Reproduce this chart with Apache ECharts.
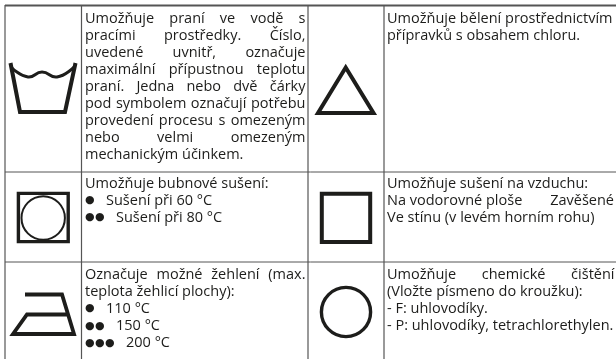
<!DOCTYPE html>
<html>
<head>
    <meta charset="utf-8">
    <script type="text/javascript" src="https://cdn.jsdelivr.net/npm/echarts@6/dist/echarts.min.js"></script>
    <style>html,body{margin:0;padding:0;background:#fff}</style>
</head>
<body>
<div id="main" style="width:616px;height:359px;"></div>
<script type="text/javascript">
    // texty bunek, radek po radku; \t = odskok na pravy okraj
    var washLines = ['Umožňuje praní ve vodě s', 'pracími prostředky. Číslo,', 'uvedené uvnitř, označuje', 'maximální přípustnou teplotu', 'praní. Jedna nebo dvě čárky', 'pod symbolem označují potřebu', 'provedení procesu s omezeným', 'nebo velmi omezeným', 'mechanickým účinkem.'];
    var bleachLines = ['Umožňuje bělení prostřednictvím', 'přípravků s obsahem chloru.'];
    var tumbleLines = ['Umožňuje bubnové sušení:', '●  Sušení při 60 °C', '●●  Sušení při 80 °C'];
    var airLines = ['Umožňuje sušení na vzduchu:', 'Na vodorovné ploše\tZavěšené', 'Ve stínu (v levém horním rohu)'];
    var ironLines = ['Označuje možné žehlení (max.', 'teplota žehlicí plochy):', '●  110 °C', '●●  150 °C', '●●●  200 °C'];
    var cleanLines = ['Umožňuje chemické čištění', '(Vložte písmeno do kroužku):', '- F: uhlovodíky.', '- P: uhlovodíky, tetrachlorethylen.'];
    // kolik prvnich radku je do bloku
    var washJustified = 8, bleachJustified = 0, tumbleJustified = 0, airJustified = 0, ironJustified = 1, cleanJustified = 1;

    var FONT_SIZE = 14.5;
    var FONT_FAMILY = '"Open Sans", "DejaVu Sans", sans-serif';
    var TEXT_COLOR = '#1d1d1b';
    var LINE_COLOR = '#555';
    var SYMBOL_COLOR = '#1d1d1b';
    var LINE_STEP = 17.1;
    var BULLET_STEP = 10;

    var measure = document.createElement('canvas').getContext('2d');
    measure.font = FONT_SIZE + 'px ' + FONT_FAMILY;
    function widthOf(s) { return measure.measureText(s).width; }

    function word(x, y, s) {
        return {
            type: 'text', x: x, y: y - 4.2, silent: true,
            style: { text: s, fontSize: FONT_SIZE, fontFamily: FONT_FAMILY, fill: TEXT_COLOR, align: 'left', verticalAlign: 'middle' }
        };
    }
    function bullet(x, y) {
        return {
            type: 'text', x: x, y: y - 4.6, silent: true,
            style: { text: '●', fontSize: 11, fontFamily: '"DejaVu Sans"', fill: TEXT_COLOR, align: 'left', verticalAlign: 'middle' }
        };
    }

    function cellText(lines, justified, left, right, baseline) {
        var out = [];
        lines.forEach(function (line, i) {
            var y = baseline + i * LINE_STEP;
            if (line.charAt(0) === '●') {
                var bits = line.split('  ');
                for (var b = 0; b < bits[0].length; b++) {
                    out.push(bullet(left + b * BULLET_STEP, y));
                }
                out.push(word(left + 1 + (bits[0].length + 1) * BULLET_STEP, y, bits[1]));
            } else if (line.indexOf('\t') >= 0) {
                var parts = line.split('\t');
                out.push(word(left, y, parts[0]));
                out.push(word(right - widthOf(parts[1]), y, parts[1]));
            } else if (i < justified) {
                var words = line.split(' ');
                var used = 0;
                words.forEach(function (w) { used += widthOf(w); });
                var gap = (right - left - used) / (words.length - 1);
                var x = left;
                words.forEach(function (w) {
                    out.push(word(x, y, w));
                    x += widthOf(w) + gap;
                });
            } else {
                out.push(word(left, y, line));
            }
        });
        return out;
    }

    function rule(x1, y1, x2, y2, w) {
        return { type: 'line', silent: true, shape: { x1: x1, y1: y1, x2: x2, y2: y2 }, style: { stroke: LINE_COLOR, lineWidth: w } };
    }
    function symbolStyle(w) {
        return { fill: 'none', stroke: SYMBOL_COLOR, lineWidth: w, lineJoin: 'miter', miterLimit: 10 };
    }

    var els = [];
    // mrizka tabulky
    els.push(rule(5, 5.5, 616, 5.5, 2));
    els.push(rule(5, 172, 616, 172, 1));
    els.push(rule(5, 262, 616, 262, 1));
    [5, 81.5, 308, 384].forEach(function (x) { els.push(rule(x, 5, x, 359, 1.2)); });

    // symboly
    els.push({ type: 'polyline', silent: true, shape: { points: [[10.5, 63], [20, 112], [65, 112], [75.5, 63]] }, style: symbolStyle(4) });
    els.push({ type: 'polyline', silent: true, shape: { points: [[12, 68], [28, 77], [42, 72], [57, 77], [74, 67]], smooth: 0.5 }, style: symbolStyle(3) });
    els.push({ type: 'polygon', silent: true, shape: { points: [[345.7, 67.5], [373.5, 113], [318, 113]] }, style: symbolStyle(4) });
    els.push({ type: 'rect', silent: true, shape: { x: 18.4, y: 193.4, width: 49.8, height: 48.2 }, style: symbolStyle(3.4) });
    els.push({ type: 'circle', silent: true, shape: { cx: 43.2, cy: 218, r: 21.7 }, style: symbolStyle(2) });
    els.push({ type: 'rect', silent: true, shape: { x: 321.8, y: 193.8, width: 48.4, height: 48.2 }, style: symbolStyle(4) });
    els.push({ type: 'circle', silent: true, shape: { cx: 346, cy: 312, r: 24.6 }, style: symbolStyle(3.4) });
    els.push({ type: 'polyline', silent: true, shape: { points: [[25, 294.5], [62, 294.5], [74, 334], [13, 334], [27, 314.5], [68, 314.5]] }, style: symbolStyle(3.8) });

    // texty
    els = els.concat(cellText(washLines, washJustified, 85, 305.5, 22.7));
    els = els.concat(cellText(bleachLines, bleachJustified, 387, 615, 22.7));
    els = els.concat(cellText(tumbleLines, tumbleJustified, 85, 305.5, 187.7));
    els = els.concat(cellText(airLines, airJustified, 387, 614, 187.7));
    els = els.concat(cellText(ironLines, ironJustified, 85, 305.5, 279));
    els = els.concat(cellText(cleanLines, cleanJustified, 387, 614.5, 279));

    var myChart = echarts.init(document.getElementById('main'), null, { renderer: 'canvas' });
    myChart.setOption({ animation: false, backgroundColor: '#fff', graphic: { elements: els } });
</script>
</body>
</html>
